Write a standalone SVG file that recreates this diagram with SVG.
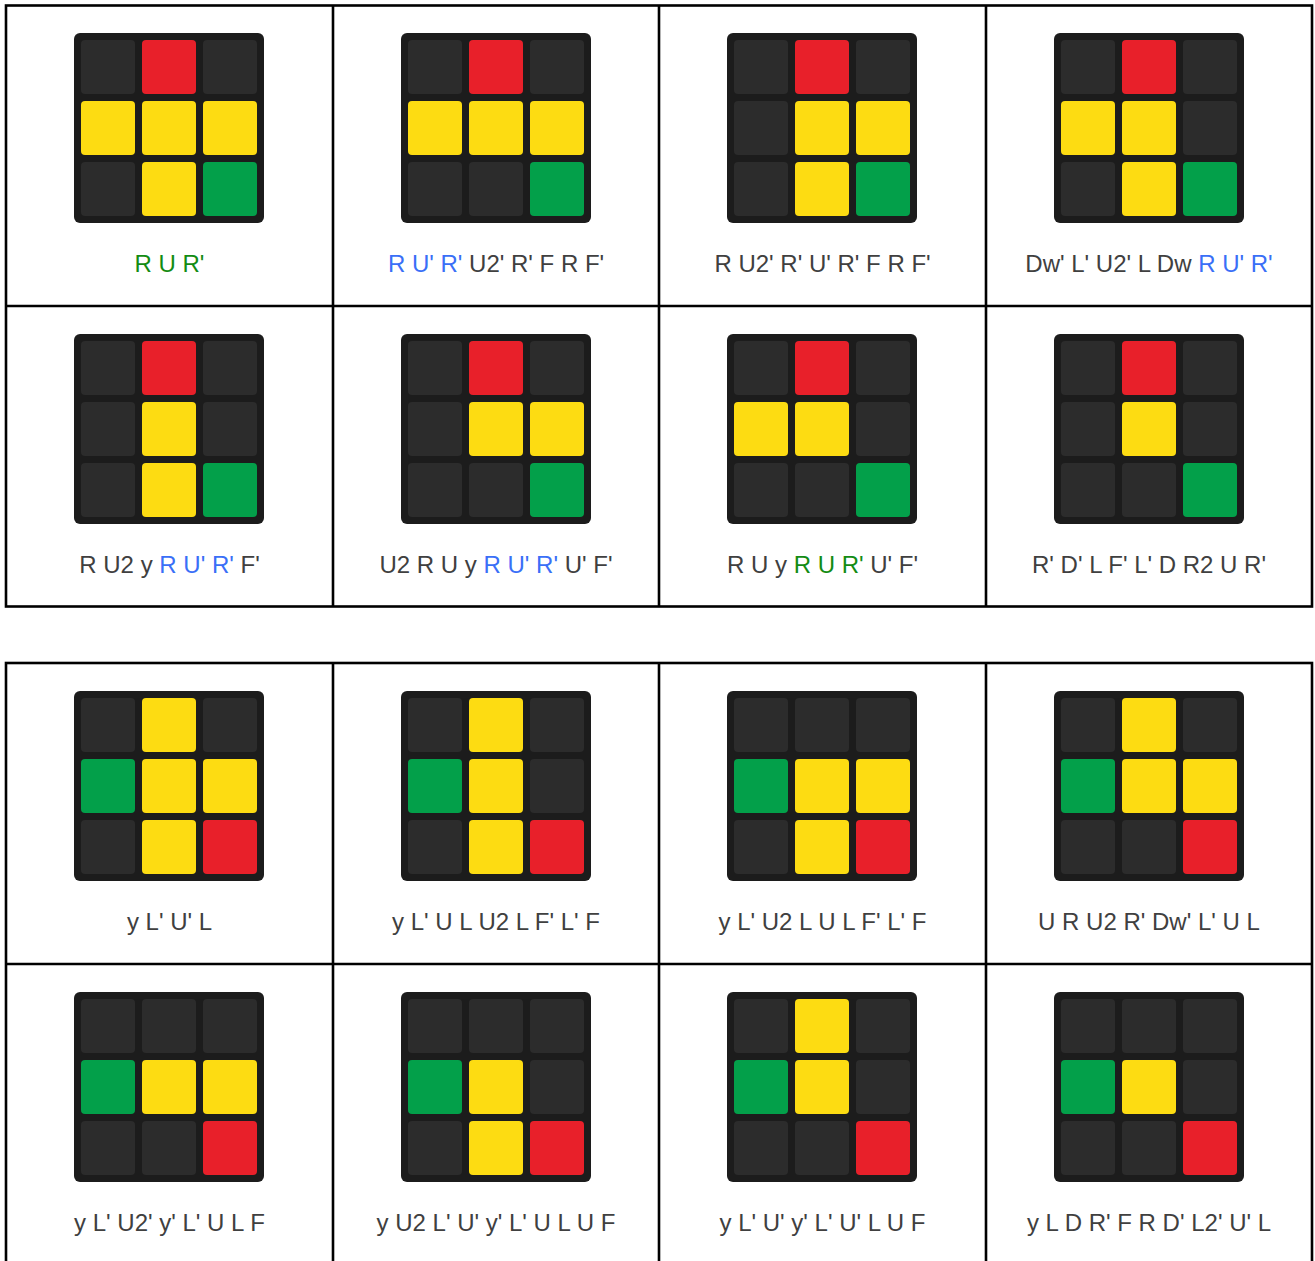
<svg xmlns="http://www.w3.org/2000/svg" width="1315" height="1261" viewBox="0 0 1315 1261">
<style>
.bg{fill:#ffffff}
.grid{stroke:#000;stroke-width:2.6;fill:none}
.cube{fill:#1c1c1c}
.s{width:54px;height:54px}
.d{fill:#2c2c2c}
.r{fill:#e8202a}
.y{fill:#fddc12}
.g{fill:#03a04a}
.t{font-family:"Liberation Sans",Arial,sans-serif;font-size:24px;fill:#404040;text-anchor:middle}
.b{fill:#3a6ff7}
.gr{fill:#138c13}
</style>
<defs>
<rect id="cb" class="cube" width="190" height="190" rx="6"/>
</defs>
<rect class="bg" width="1315" height="1261"/>
<g id="connectors">
<rect class="grid" x="6" y="5.5" width="1306" height="601"/>
<line class="grid" x1="6" y1="306" x2="1312" y2="306"/>
<line class="grid" x1="333" y1="5.5" x2="333" y2="606.5"/>
<line class="grid" x1="659" y1="5.5" x2="659" y2="606.5"/>
<line class="grid" x1="986" y1="5.5" x2="986" y2="606.5"/>
<rect class="grid" x="6" y="663" width="1306" height="602"/>
<line class="grid" x1="6" y1="964" x2="1312" y2="964"/>
<line class="grid" x1="333" y1="663" x2="333" y2="1265"/>
<line class="grid" x1="659" y1="663" x2="659" y2="1265"/>
<line class="grid" x1="986" y1="663" x2="986" y2="1265"/>
</g>
<!-- Table 1 row 1 -->
<g id="t1c1">
<g transform="translate(74,33)"><use href="#cb"/>
<rect class="d" x="7" y="7" width="54" height="54" rx="4"/><rect class="r" x="68" y="7" width="54" height="54" rx="4"/><rect class="d" x="129" y="7" width="54" height="54" rx="4"/>
<rect class="y" x="7" y="68" width="54" height="54" rx="4"/><rect class="y" x="68" y="68" width="54" height="54" rx="4"/><rect class="y" x="129" y="68" width="54" height="54" rx="4"/>
<rect class="d" x="7" y="129" width="54" height="54" rx="4"/><rect class="y" x="68" y="129" width="54" height="54" rx="4"/><rect class="g" x="129" y="129" width="54" height="54" rx="4"/>
</g>
<text class="t" x="169.5" y="272"><tspan class="gr">R U R'</tspan></text>
</g>
<g id="t1c2">
<g transform="translate(401,33)"><use href="#cb"/>
<rect class="d" x="7" y="7" width="54" height="54" rx="4"/><rect class="r" x="68" y="7" width="54" height="54" rx="4"/><rect class="d" x="129" y="7" width="54" height="54" rx="4"/>
<rect class="y" x="7" y="68" width="54" height="54" rx="4"/><rect class="y" x="68" y="68" width="54" height="54" rx="4"/><rect class="y" x="129" y="68" width="54" height="54" rx="4"/>
<rect class="d" x="7" y="129" width="54" height="54" rx="4"/><rect class="d" x="68" y="129" width="54" height="54" rx="4"/><rect class="g" x="129" y="129" width="54" height="54" rx="4"/>
</g>
<text class="t" x="496" y="272"><tspan class="b">R U' R'</tspan> U2' R' F R F'</text>
</g>
<g id="t1c3">
<g transform="translate(727,33)"><use href="#cb"/>
<rect class="d" x="7" y="7" width="54" height="54" rx="4"/><rect class="r" x="68" y="7" width="54" height="54" rx="4"/><rect class="d" x="129" y="7" width="54" height="54" rx="4"/>
<rect class="d" x="7" y="68" width="54" height="54" rx="4"/><rect class="y" x="68" y="68" width="54" height="54" rx="4"/><rect class="y" x="129" y="68" width="54" height="54" rx="4"/>
<rect class="d" x="7" y="129" width="54" height="54" rx="4"/><rect class="y" x="68" y="129" width="54" height="54" rx="4"/><rect class="g" x="129" y="129" width="54" height="54" rx="4"/>
</g>
<text class="t" x="822.5" y="272">R U2' R' U' R' F R F'</text>
</g>
<g id="t1c4">
<g transform="translate(1054,33)"><use href="#cb"/>
<rect class="d" x="7" y="7" width="54" height="54" rx="4"/><rect class="r" x="68" y="7" width="54" height="54" rx="4"/><rect class="d" x="129" y="7" width="54" height="54" rx="4"/>
<rect class="y" x="7" y="68" width="54" height="54" rx="4"/><rect class="y" x="68" y="68" width="54" height="54" rx="4"/><rect class="d" x="129" y="68" width="54" height="54" rx="4"/>
<rect class="d" x="7" y="129" width="54" height="54" rx="4"/><rect class="y" x="68" y="129" width="54" height="54" rx="4"/><rect class="g" x="129" y="129" width="54" height="54" rx="4"/>
</g>
<text class="t" x="1149" y="272">Dw' L' U2' L Dw <tspan class="b">R U' R'</tspan></text>
</g>
<!-- Table 1 row 2 -->
<g id="t1c5">
<g transform="translate(74,334)"><use href="#cb"/>
<rect class="d" x="7" y="7" width="54" height="54" rx="4"/><rect class="r" x="68" y="7" width="54" height="54" rx="4"/><rect class="d" x="129" y="7" width="54" height="54" rx="4"/>
<rect class="d" x="7" y="68" width="54" height="54" rx="4"/><rect class="y" x="68" y="68" width="54" height="54" rx="4"/><rect class="d" x="129" y="68" width="54" height="54" rx="4"/>
<rect class="d" x="7" y="129" width="54" height="54" rx="4"/><rect class="y" x="68" y="129" width="54" height="54" rx="4"/><rect class="g" x="129" y="129" width="54" height="54" rx="4"/>
</g>
<text class="t" x="169.5" y="573">R U2 y <tspan class="b">R U' R'</tspan> F'</text>
</g>
<g id="t1c6">
<g transform="translate(401,334)"><use href="#cb"/>
<rect class="d" x="7" y="7" width="54" height="54" rx="4"/><rect class="r" x="68" y="7" width="54" height="54" rx="4"/><rect class="d" x="129" y="7" width="54" height="54" rx="4"/>
<rect class="d" x="7" y="68" width="54" height="54" rx="4"/><rect class="y" x="68" y="68" width="54" height="54" rx="4"/><rect class="y" x="129" y="68" width="54" height="54" rx="4"/>
<rect class="d" x="7" y="129" width="54" height="54" rx="4"/><rect class="d" x="68" y="129" width="54" height="54" rx="4"/><rect class="g" x="129" y="129" width="54" height="54" rx="4"/>
</g>
<text class="t" x="496" y="573">U2 R U y <tspan class="b">R U' R'</tspan> U' F'</text>
</g>
<g id="t1c7">
<g transform="translate(727,334)"><use href="#cb"/>
<rect class="d" x="7" y="7" width="54" height="54" rx="4"/><rect class="r" x="68" y="7" width="54" height="54" rx="4"/><rect class="d" x="129" y="7" width="54" height="54" rx="4"/>
<rect class="y" x="7" y="68" width="54" height="54" rx="4"/><rect class="y" x="68" y="68" width="54" height="54" rx="4"/><rect class="d" x="129" y="68" width="54" height="54" rx="4"/>
<rect class="d" x="7" y="129" width="54" height="54" rx="4"/><rect class="d" x="68" y="129" width="54" height="54" rx="4"/><rect class="g" x="129" y="129" width="54" height="54" rx="4"/>
</g>
<text class="t" x="822.5" y="573">R U y <tspan class="gr">R U R'</tspan> U' F'</text>
</g>
<g id="t1c8">
<g transform="translate(1054,334)"><use href="#cb"/>
<rect class="d" x="7" y="7" width="54" height="54" rx="4"/><rect class="r" x="68" y="7" width="54" height="54" rx="4"/><rect class="d" x="129" y="7" width="54" height="54" rx="4"/>
<rect class="d" x="7" y="68" width="54" height="54" rx="4"/><rect class="y" x="68" y="68" width="54" height="54" rx="4"/><rect class="d" x="129" y="68" width="54" height="54" rx="4"/>
<rect class="d" x="7" y="129" width="54" height="54" rx="4"/><rect class="d" x="68" y="129" width="54" height="54" rx="4"/><rect class="g" x="129" y="129" width="54" height="54" rx="4"/>
</g>
<text class="t" x="1149" y="573">R' D' L F' L' D R2 U R'</text>
</g>
<!-- Table 2 row 1 -->
<g id="t2c1">
<g transform="translate(74,691)"><use href="#cb"/>
<rect class="d" x="7" y="7" width="54" height="54" rx="4"/><rect class="y" x="68" y="7" width="54" height="54" rx="4"/><rect class="d" x="129" y="7" width="54" height="54" rx="4"/>
<rect class="g" x="7" y="68" width="54" height="54" rx="4"/><rect class="y" x="68" y="68" width="54" height="54" rx="4"/><rect class="y" x="129" y="68" width="54" height="54" rx="4"/>
<rect class="d" x="7" y="129" width="54" height="54" rx="4"/><rect class="y" x="68" y="129" width="54" height="54" rx="4"/><rect class="r" x="129" y="129" width="54" height="54" rx="4"/>
</g>
<text class="t" x="169.5" y="930">y L' U' L</text>
</g>
<g id="t2c2">
<g transform="translate(401,691)"><use href="#cb"/>
<rect class="d" x="7" y="7" width="54" height="54" rx="4"/><rect class="y" x="68" y="7" width="54" height="54" rx="4"/><rect class="d" x="129" y="7" width="54" height="54" rx="4"/>
<rect class="g" x="7" y="68" width="54" height="54" rx="4"/><rect class="y" x="68" y="68" width="54" height="54" rx="4"/><rect class="d" x="129" y="68" width="54" height="54" rx="4"/>
<rect class="d" x="7" y="129" width="54" height="54" rx="4"/><rect class="y" x="68" y="129" width="54" height="54" rx="4"/><rect class="r" x="129" y="129" width="54" height="54" rx="4"/>
</g>
<text class="t" x="496" y="930">y L' U L U2 L F' L' F</text>
</g>
<g id="t2c3">
<g transform="translate(727,691)"><use href="#cb"/>
<rect class="d" x="7" y="7" width="54" height="54" rx="4"/><rect class="d" x="68" y="7" width="54" height="54" rx="4"/><rect class="d" x="129" y="7" width="54" height="54" rx="4"/>
<rect class="g" x="7" y="68" width="54" height="54" rx="4"/><rect class="y" x="68" y="68" width="54" height="54" rx="4"/><rect class="y" x="129" y="68" width="54" height="54" rx="4"/>
<rect class="d" x="7" y="129" width="54" height="54" rx="4"/><rect class="y" x="68" y="129" width="54" height="54" rx="4"/><rect class="r" x="129" y="129" width="54" height="54" rx="4"/>
</g>
<text class="t" x="822.5" y="930">y L' U2 L U L F' L' F</text>
</g>
<g id="t2c4">
<g transform="translate(1054,691)"><use href="#cb"/>
<rect class="d" x="7" y="7" width="54" height="54" rx="4"/><rect class="y" x="68" y="7" width="54" height="54" rx="4"/><rect class="d" x="129" y="7" width="54" height="54" rx="4"/>
<rect class="g" x="7" y="68" width="54" height="54" rx="4"/><rect class="y" x="68" y="68" width="54" height="54" rx="4"/><rect class="y" x="129" y="68" width="54" height="54" rx="4"/>
<rect class="d" x="7" y="129" width="54" height="54" rx="4"/><rect class="d" x="68" y="129" width="54" height="54" rx="4"/><rect class="r" x="129" y="129" width="54" height="54" rx="4"/>
</g>
<text class="t" x="1149" y="930">U R U2 R' Dw' L' U L</text>
</g>
<!-- Table 2 row 2 -->
<g id="t2c5">
<g transform="translate(74,992)"><use href="#cb"/>
<rect class="d" x="7" y="7" width="54" height="54" rx="4"/><rect class="d" x="68" y="7" width="54" height="54" rx="4"/><rect class="d" x="129" y="7" width="54" height="54" rx="4"/>
<rect class="g" x="7" y="68" width="54" height="54" rx="4"/><rect class="y" x="68" y="68" width="54" height="54" rx="4"/><rect class="y" x="129" y="68" width="54" height="54" rx="4"/>
<rect class="d" x="7" y="129" width="54" height="54" rx="4"/><rect class="d" x="68" y="129" width="54" height="54" rx="4"/><rect class="r" x="129" y="129" width="54" height="54" rx="4"/>
</g>
<text class="t" x="169.5" y="1231">y L' U2' y' L' U L F</text>
</g>
<g id="t2c6">
<g transform="translate(401,992)"><use href="#cb"/>
<rect class="d" x="7" y="7" width="54" height="54" rx="4"/><rect class="d" x="68" y="7" width="54" height="54" rx="4"/><rect class="d" x="129" y="7" width="54" height="54" rx="4"/>
<rect class="g" x="7" y="68" width="54" height="54" rx="4"/><rect class="y" x="68" y="68" width="54" height="54" rx="4"/><rect class="d" x="129" y="68" width="54" height="54" rx="4"/>
<rect class="d" x="7" y="129" width="54" height="54" rx="4"/><rect class="y" x="68" y="129" width="54" height="54" rx="4"/><rect class="r" x="129" y="129" width="54" height="54" rx="4"/>
</g>
<text class="t" x="496" y="1231">y U2 L' U' y' L' U L U F</text>
</g>
<g id="t2c7">
<g transform="translate(727,992)"><use href="#cb"/>
<rect class="d" x="7" y="7" width="54" height="54" rx="4"/><rect class="y" x="68" y="7" width="54" height="54" rx="4"/><rect class="d" x="129" y="7" width="54" height="54" rx="4"/>
<rect class="g" x="7" y="68" width="54" height="54" rx="4"/><rect class="y" x="68" y="68" width="54" height="54" rx="4"/><rect class="d" x="129" y="68" width="54" height="54" rx="4"/>
<rect class="d" x="7" y="129" width="54" height="54" rx="4"/><rect class="d" x="68" y="129" width="54" height="54" rx="4"/><rect class="r" x="129" y="129" width="54" height="54" rx="4"/>
</g>
<text class="t" x="822.5" y="1231">y L' U' y' L' U' L U F</text>
</g>
<g id="t2c8">
<g transform="translate(1054,992)"><use href="#cb"/>
<rect class="d" x="7" y="7" width="54" height="54" rx="4"/><rect class="d" x="68" y="7" width="54" height="54" rx="4"/><rect class="d" x="129" y="7" width="54" height="54" rx="4"/>
<rect class="g" x="7" y="68" width="54" height="54" rx="4"/><rect class="y" x="68" y="68" width="54" height="54" rx="4"/><rect class="d" x="129" y="68" width="54" height="54" rx="4"/>
<rect class="d" x="7" y="129" width="54" height="54" rx="4"/><rect class="d" x="68" y="129" width="54" height="54" rx="4"/><rect class="r" x="129" y="129" width="54" height="54" rx="4"/>
</g>
<text class="t" x="1149" y="1231">y L D R' F R D' L2' U' L</text>
</g>
</svg>
